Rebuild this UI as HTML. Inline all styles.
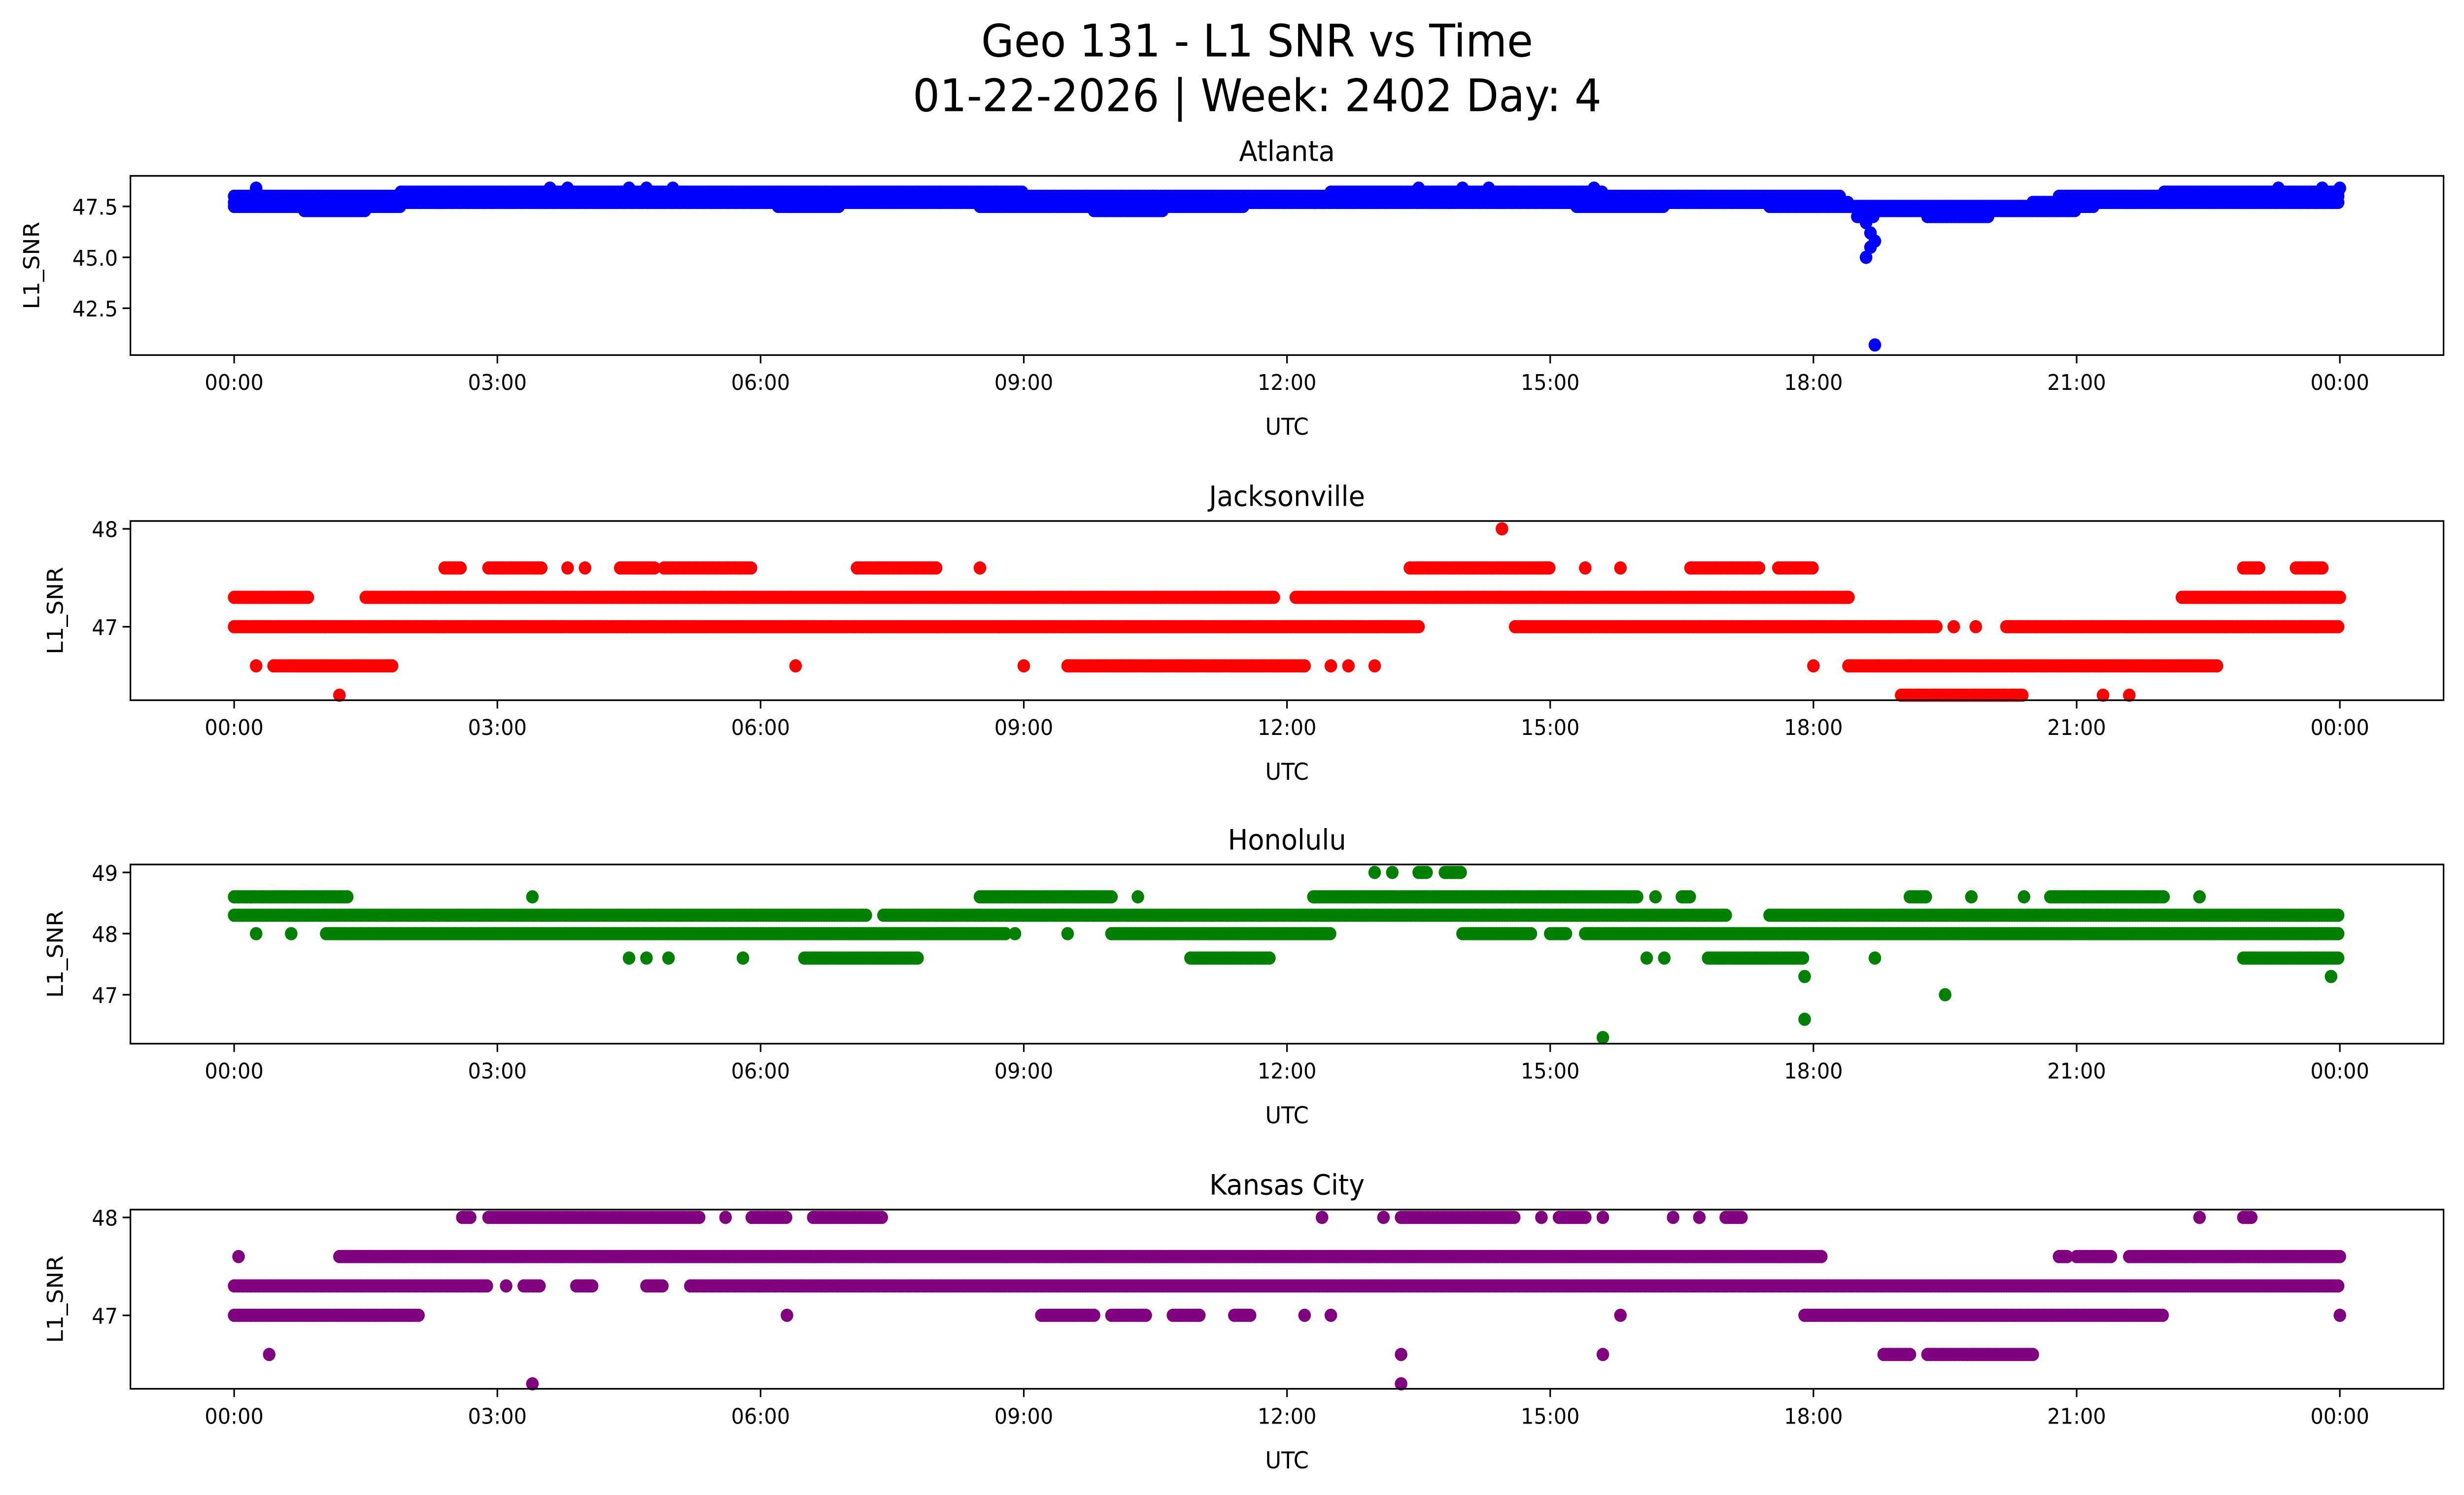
<!DOCTYPE html>
<html><head><meta charset="utf-8"><style>
html,body{margin:0;padding:0;background:#fff;width:100%;height:100%;overflow:hidden;}
svg{display:block;position:absolute;left:0;top:0;width:100vw;height:100vh;font-family:"DejaVu Sans","Liberation Sans",sans-serif;}
</style></head><body>
<svg id="chart" viewBox="0 0 1568 901" preserveAspectRatio="none" xmlns="http://www.w3.org/2000/svg">
<rect width="1568" height="901" fill="#fff"/>
<text x="800" y="34" font-size="27" text-anchor="middle">Geo 131 - L1 SNR vs Time</text>
<text x="800" y="67" font-size="27" text-anchor="middle">01-22-2026 | Week: 2402 Day: 4</text>
<g id="plots"></g>
</svg>
<script>
// Tick labels
const xTickHours = [0,3,6,9,12,15,18,21,24];
const xTickLabels = ["00:00","03:00","06:00","09:00","12:00","15:00","18:00","21:00","00:00"];
// Station names and colors
const stations = ["Atlanta","Jacksonville","Honolulu","Kansas City"];
const colors = ["#0000ff","#ff0000","#008000","#800080"];
// y ticks per panel
const yTicks0 = [42.5,45.0,47.5]; const yTickLabels0 = ["42.5","45.0","47.5"];
const yTicks1 = [47,48]; const yTickLabels1 = ["47","48"];
const yTicks2 = [47,48,49]; const yTickLabels2 = ["47","48","49"];
const yTicks3 = [47,48]; const yTickLabels3 = ["47","48"];
// Runs: [startHour, endHour, SNR]
const atlantaRuns = [[0,18.3,48.0],[20.8,24,48.0],[0,18.4,47.7],[20.5,24,47.7],[1.9,9.0,48.2],[12.5,15.6,48.2],[22.0,24,48.2],
[0,1.9,47.5],[6.2,6.9,47.5],[8.5,11.5,47.5],[15.3,16.3,47.5],[17.5,21.2,47.5],[0.8,1.5,47.3],[9.8,10.6,47.3],[18.7,21.0,47.3],
[0.25,0.25,48.4],[3.6,3.6,48.4],[3.8,3.8,48.4],[4.5,4.5,48.4],[4.7,4.7,48.4],[5.0,5.0,48.4],[13.5,13.5,48.4],[14.0,14.0,48.4],[14.3,14.3,48.4],[15.5,15.5,48.4],[23.3,23.3,48.4],[23.8,23.8,48.4],[24,24,48.4],
[18.5,18.7,47.0],[19.3,20.0,47.0],[18.6,18.6,46.7],[18.65,18.65,46.2],[18.7,18.7,45.8],[18.65,18.65,45.5],[18.6,18.6,45.0],[18.7,18.7,40.7]];
const jaxRuns = [[0,0.85,47.3],[1.5,11.85,47.3],[12.1,18.4,47.3],[22.2,24,47.3],
[0,13.5,47.0],[14.6,19.4,47.0],[19.6,19.6,47.0],[19.85,19.85,47.0],[20.2,24,47.0],
[0.25,0.25,46.6],[0.45,1.8,46.6],[6.4,6.4,46.6],[9.0,9.0,46.6],[9.5,12.2,46.6],[12.5,12.5,46.6],[12.7,12.7,46.6],[13.0,13.0,46.6],[18.0,18.0,46.6],[18.4,22.6,46.6],
[1.2,1.2,46.3],[19.0,20.4,46.3],[21.3,21.3,46.3],[21.6,21.6,46.3],
[2.4,2.6,47.6],[2.9,3.5,47.6],[3.8,3.8,47.6],[4.0,4.0,47.6],[4.4,4.8,47.6],[4.9,5.9,47.6],[7.1,8.0,47.6],[8.5,8.5,47.6],[13.4,15.0,47.6],[15.4,15.4,47.6],[15.8,15.8,47.6],[16.6,17.4,47.6],[17.6,18.0,47.6],[22.9,23.1,47.6],[23.5,23.8,47.6],
[14.45,14.45,48.0]];
const honRuns = [[0,1.3,48.6],[3.4,3.4,48.6],[8.5,10.0,48.6],[10.3,10.3,48.6],[12.3,16.0,48.6],[16.2,16.2,48.6],[16.5,16.6,48.6],[19.1,19.3,48.6],[19.8,19.8,48.6],[20.4,20.4,48.6],[20.7,22.0,48.6],[22.4,22.4,48.6],
[0,7.2,48.3],[7.4,17.0,48.3],[17.5,24,48.3],
[0.25,0.25,48.0],[0.65,0.65,48.0],[1.05,8.8,48.0],[8.9,8.9,48.0],[9.5,9.5,48.0],[10.0,12.5,48.0],[14.0,14.8,48.0],[15.0,15.2,48.0],[15.4,24,48.0],
[13.0,13.0,49.0],[13.2,13.2,49.0],[13.5,13.6,49.0],[13.8,14.0,49.0],
[4.5,4.5,47.6],[4.7,4.7,47.6],[4.95,4.95,47.6],[5.8,5.8,47.6],[6.5,7.8,47.6],[10.9,11.8,47.6],[16.1,16.1,47.6],[16.3,16.3,47.6],[16.8,17.9,47.6],[18.7,18.7,47.6],[22.9,24,47.6],
[17.9,17.9,47.3],[23.9,23.9,47.3],[19.5,19.5,47.0],[17.9,17.9,46.6],[15.6,15.6,46.3]];
const kcRuns = [[2.6,2.7,48.0],[2.9,5.3,48.0],[5.6,5.6,48.0],[5.9,6.3,48.0],[6.6,7.4,48.0],[12.4,12.4,48.0],[13.1,13.1,48.0],[13.3,14.6,48.0],[14.9,14.9,48.0],[15.1,15.4,48.0],[15.6,15.6,48.0],[16.4,16.4,48.0],[16.7,16.7,48.0],[17.0,17.2,48.0],[22.4,22.4,48.0],[22.9,23.0,48.0],
[0.05,0.05,47.6],[1.2,18.1,47.6],[20.8,20.9,47.6],[21.0,21.4,47.6],[21.6,24,47.6],
[0,2.9,47.3],[3.1,3.1,47.3],[3.3,3.5,47.3],[3.9,4.1,47.3],[4.7,4.9,47.3],[5.2,24,47.3],
[0,2.1,47.0],[6.3,6.3,47.0],[9.2,9.8,47.0],[10.0,10.4,47.0],[10.7,11.0,47.0],[11.4,11.6,47.0],[12.2,12.2,47.0],[12.5,12.5,47.0],[15.8,15.8,47.0],[17.9,22.0,47.0],[24.0,24.0,47.0],
[0.4,0.4,46.6],[13.3,13.3,46.6],[15.6,15.6,46.6],[18.8,19.1,46.6],[19.3,20.5,46.6],[3.4,3.4,46.3],[13.3,13.3,46.3]];

const panels = [
 {runs:atlantaRuns, ticks:yTicks0, labels:yTickLabels0, top:106, ymin:40.2, ymax:49.0},
 {runs:jaxRuns, ticks:yTicks1, labels:yTickLabels1, top:314, ymin:46.25, ymax:48.08},
 {runs:honRuns, ticks:yTicks2, labels:yTickLabels2, top:521, ymin:46.2, ymax:49.13},
 {runs:kcRuns, ticks:yTicks3, labels:yTickLabels3, top:729, ymin:46.25, ymax:48.08}
];
const NS="http://www.w3.org/2000/svg";
const root=document.getElementById('plots');
const L=83,R=1555,H=108;
const xs=h=>149+h*(1340/24);
function mk(t,a,p){const e=document.createElementNS(NS,t);for(const k in a)e.setAttribute(k,a[k]);(p||root).appendChild(e);return e;}
panels.forEach((P,i)=>{
  const g=mk('g',{});
  
  
  const ys=v=>P.top+H-(v-P.ymin)/(P.ymax-P.ymin)*H;
  const t=mk('text',{x:(L+R)/2,y:P.top-9,'font-size':17,'text-anchor':'middle'},g);t.textContent=stations[i];
  
  
  const pts=mk('g',{fill:colors[i]},g);
  
  
  P.runs.forEach(r=>{
    for(let h=r[0];h<=r[1]+1e-9;h+=0.03){
      const c=mk('circle',{cx:xs(h).toFixed(1),cy:ys(r[2]).toFixed(1),r:4},pts);
      
      
    }
  });
  const fr=mk('rect',{x:L,y:P.top,width:R-L,height:H,fill:'none',stroke:'#000','stroke-width':1},g);
  
  
  xTickHours.forEach((h,k)=>{
    mk('line',{x1:xs(h),x2:xs(h),y1:P.top+H,y2:P.top+H+5,stroke:'#000'},g);
    const tl=mk('text',{x:xs(h),y:P.top+H+21,'font-size':13,'text-anchor':'middle'},g);tl.textContent=xTickLabels[k];
    
    
  });
  P.ticks.forEach((v,k)=>{
    mk('line',{x1:L-5,x2:L,y1:ys(v),y2:ys(v),stroke:'#000'},g);
    const tl=mk('text',{x:L-8,y:ys(v)+5,'font-size':13,'text-anchor':'end'},g);tl.textContent=P.labels[k];
    
    
  });
  const xl=mk('text',{x:(L+R)/2,y:P.top+H+48,'font-size':14,'text-anchor':'middle'},g);xl.textContent='UTC';
  
  
  const yl=mk('text',{x:0,y:0,'font-size':14,'text-anchor':'middle',transform:`translate(${i==0?25:40},${P.top+H/2}) rotate(-90)`},g);yl.textContent='L1_SNR';
  
  
});
</script>
</body></html>
